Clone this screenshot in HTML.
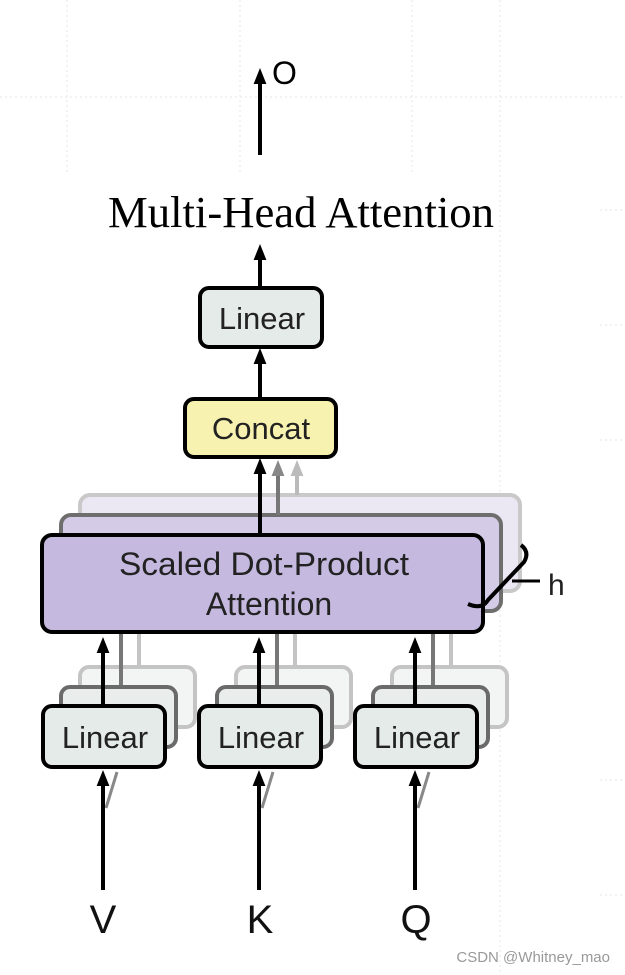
<!DOCTYPE html>
<html><head><meta charset="utf-8"><style>
html,body{margin:0;padding:0;background:#fff;}
svg{display:block;}
text{font-family:"Liberation Sans",sans-serif;}
</style></head><body>
<svg width="625" height="975" viewBox="0 0 625 975" xmlns="http://www.w3.org/2000/svg">
<defs>
<marker id="a" markerWidth="4" markerHeight="4" refX="2" refY="2" orient="auto" markerUnits="strokeWidth"><path d="M0,0.4 L4,2 L0,3.6 Z" fill="#000"/></marker>
<marker id="ag" markerWidth="4" markerHeight="4" refX="2" refY="2" orient="auto" markerUnits="strokeWidth"><path d="M0,0.4 L4,2 L0,3.6 Z" fill="#888"/></marker>
<marker id="al" markerWidth="4" markerHeight="4" refX="2" refY="2" orient="auto" markerUnits="strokeWidth"><path d="M0,0.4 L4,2 L0,3.6 Z" fill="#bbb"/></marker>
</defs>
<g stroke="#e4e4e4" stroke-width="1" stroke-dasharray="2,3">
<line x1="0" y1="97" x2="625" y2="97"/>
<line x1="67" y1="0" x2="67" y2="175"/>
<line x1="240" y1="0" x2="240" y2="175"/>
<line x1="412" y1="0" x2="412" y2="175"/>
<line x1="500" y1="0" x2="500" y2="975"/>
<line x1="600" y1="210" x2="625" y2="210"/>
<line x1="600" y1="325" x2="625" y2="325"/>
<line x1="600" y1="440" x2="625" y2="440"/>
<line x1="600" y1="780" x2="625" y2="780"/>
<line x1="600" y1="895" x2="625" y2="895"/>
</g>

<line x1="260" y1="155" x2="260" y2="76" stroke="#000" stroke-width="4" marker-end="url(#a)"/>
<text x="272" y="84" font-size="32" fill="#000">O</text>
<text x="301" y="227" font-size="44" text-anchor="middle" style="font-family:'Liberation Serif',serif" textLength="386" lengthAdjust="spacingAndGlyphs">Multi-Head Attention</text>

<line x1="260" y1="286" x2="260" y2="252" stroke="#000" stroke-width="4" marker-end="url(#a)"/>
<rect x="200" y="288" width="122" height="59" rx="9" fill="#e5ebe9" stroke="#000" stroke-width="4"/>
<text x="262" y="329" font-size="31" text-anchor="middle" fill="#222">Linear</text>

<line x1="260" y1="397" x2="260" y2="356" stroke="#000" stroke-width="4" marker-end="url(#a)"/>
<rect x="185" y="399" width="151" height="58" rx="9" fill="#f8f2b0" stroke="#000" stroke-width="4"/>
<text x="261" y="439" font-size="31" text-anchor="middle" fill="#222">Concat</text>

<rect x="80" y="495" width="440" height="96" rx="10" fill="#ece8f3" stroke="#c9c9c9" stroke-width="4"/>
<line x1="297" y1="495" x2="297" y2="468" stroke="#bbb" stroke-width="4" marker-end="url(#al)"/>
<rect x="61" y="515" width="440" height="96" rx="10" fill="#d4cce6" stroke="#6e6e6e" stroke-width="4"/>
<line x1="278" y1="515" x2="278" y2="468" stroke="#777" stroke-width="4" marker-end="url(#ag)"/>
<rect x="42" y="535" width="441" height="97" rx="10" fill="#c5b9df" stroke="#000" stroke-width="4"/>
<line x1="260" y1="535" x2="260" y2="466" stroke="#000" stroke-width="4" marker-end="url(#a)"/>
<text x="264" y="575" font-size="32" text-anchor="middle" fill="#222" textLength="290" lengthAdjust="spacingAndGlyphs">Scaled Dot-Product</text>
<text x="269" y="615" font-size="32" text-anchor="middle" fill="#222">Attention</text>
<path d="M521,545 Q530,552 524,562 L488,600 Q482,610 468,604" fill="none" stroke="#000" stroke-width="4"/>
<line x1="512" y1="581" x2="540" y2="581" stroke="#000" stroke-width="3"/>
<text x="548" y="595" font-size="30" fill="#222">h</text>

<g id="grp">
<line x1="139" y1="667" x2="139" y2="634" stroke="#c4c4c4" stroke-width="4"/>
<rect x="80" y="667" width="115" height="60" rx="9" fill="#f3f5f4" stroke="#c4c4c4" stroke-width="4"/>
<line x1="121" y1="687" x2="121" y2="634" stroke="#777" stroke-width="4"/>
<rect x="61" y="687" width="115" height="60" rx="9" fill="#e9eeec" stroke="#6a6a6a" stroke-width="4"/>
<rect x="43" y="706" width="122" height="61" rx="9" fill="#e5ebe9" stroke="#000" stroke-width="4"/>
<text x="105" y="748" font-size="31" text-anchor="middle" fill="#222">Linear</text>
<line x1="103" y1="706" x2="103" y2="645" stroke="#000" stroke-width="4" marker-end="url(#a)"/>
<line x1="106" y1="808" x2="117" y2="772" stroke="#888" stroke-width="3"/>
<line x1="103" y1="890" x2="103" y2="778" stroke="#000" stroke-width="4" marker-end="url(#a)"/>
</g>
<use href="#grp" x="156"/>
<use href="#grp" x="312"/>

<text x="103" y="933" font-size="40" text-anchor="middle" fill="#111">V</text>
<text x="260" y="933" font-size="40" text-anchor="middle" fill="#111">K</text>
<text x="416" y="933" font-size="40" text-anchor="middle" fill="#111">Q</text>
<text x="610" y="962" font-size="15" text-anchor="end" fill="#999">CSDN @Whitney_mao</text>
</svg>
</body></html>
